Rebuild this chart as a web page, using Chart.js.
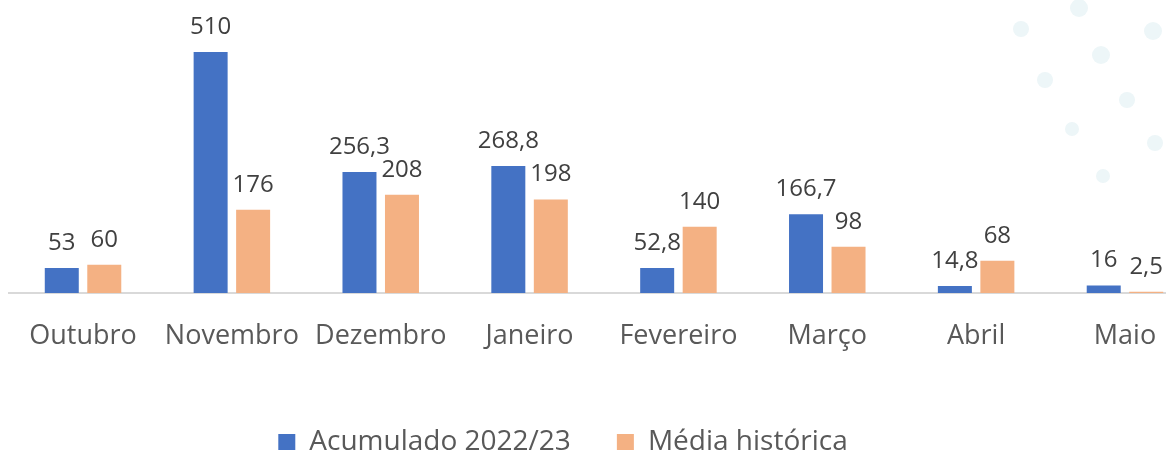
<!DOCTYPE html>
<html>
<head>
<meta charset="utf-8">
<script src="https://cdn.jsdelivr.net/npm/chart.js@4/dist/chart.umd.min.js"></script>
<style>
  html, body { margin: 0; padding: 0; background: #fff; overflow: hidden; }
  #wrap { width: 1166px; height: 453px; overflow: hidden; position: relative; }
  #box { width: 1200px; height: 453px; position: absolute; left: 0; top: 0; }
</style>
</head>
<body>
<div id="wrap"><div id="box"><canvas id="chart"></canvas></div></div>
<script>
const meses = ['Outubro', 'Novembro', 'Dezembro', 'Janeiro', 'Fevereiro', 'Março', 'Abril', 'Maio'];
const acumulado = [53, 510, 256.3, 268.8, 52.8, 166.7, 14.8, 16];
const mediaHistorica = [60, 176, 208, 198, 140, 98, 68, 2.5];

const FONT = "'Open Sans', sans-serif";
const AXIS_Y = 293; // where the baseline sits

// pale decorative dots in the top right corner
const dots = [
  [1079, 8, 9], [1021, 29, 8], [1153, 31, 9], [1101, 55, 9], [1045, 80, 8],
  [1127, 100, 8], [1072, 129, 7], [1155, 143, 8], [1103, 176, 7]
];

const bgDots = {
  id: 'bgDots',
  beforeDraw(chart) {
    const ctx = chart.ctx;
    ctx.save();
    ctx.fillStyle = '#edf6f8';
    dots.forEach(([x, y, r]) => {
      ctx.beginPath();
      ctx.arc(x, y, r, 0, Math.PI * 2);
      ctx.fill();
    });
    ctx.restore();
  }
};

const valueLabels = {
  id: 'valueLabels',
  afterDatasetsDraw(chart) {
    const ctx = chart.ctx;
    ctx.save();
    ctx.font = `24px ${FONT}`;
    ctx.fillStyle = '#404040';
    ctx.textAlign = 'center';
    ctx.textBaseline = 'alphabetic';
    chart.data.datasets.forEach((ds, i) => {
      chart.getDatasetMeta(i).data.forEach((bar, j) => {
        const txt = String(ds.data[j]).replace('.', ',');
        ctx.fillText(txt, bar.x, bar.y - 18);
      });
    });
    ctx.restore();
  }
};

// nudge the legend to where it sits in the original
const legendShift = {
  id: 'legendShift',
  afterLayout(chart) {
    const lg = chart.legend;
    if (lg) {
      const dx = 563 - (lg.left + lg.right) / 2;
      lg.left += dx;
      lg.right += dx;
      lg.top += 13;
      lg.bottom += 13;
    }
  }
};

new Chart(document.getElementById('chart'), {
  type: 'bar',
  data: {
    labels: meses,
    datasets: [
      {
        label: 'Acumulado 2022/23',
        data: acumulado,
        backgroundColor: '#4472C4',
        categoryPercentage: 0.571,
        barPercentage: 0.8
      },
      {
        label: 'Média histórica',
        data: mediaHistorica,
        backgroundColor: '#F4B183',
        categoryPercentage: 0.571,
        barPercentage: 0.8
      }
    ]
  },
  options: {
    responsive: true,
    maintainAspectRatio: false,
    animation: false,
    layout: {
      padding: { left: 8.6, right: 0.6, top: 9.5, bottom: 0 }
    },
    plugins: {
      tooltip: { enabled: false },
      legend: {
        position: 'bottom',
        labels: {
          boxWidth: 17,
          boxHeight: 16,
          padding: 46,
          color: '#595959',
          font: { family: FONT, size: 28 }
        }
      }
    },
    scales: {
      x: {
        grid: { display: false, drawTicks: false },
        border: { display: true, color: '#d9d9d9', width: 2 },
        ticks: {
          color: '#595959',
          padding: 27,
          font: { family: FONT, size: 27 },
          maxRotation: 0,
          autoSkip: false
        },
        afterFit(scale) {
          const lgH = scale.chart.legend ? scale.chart.legend.height : 0;
          scale.height = scale.chart.height - AXIS_Y - lgH;
        }
      },
      y: {
        display: false,
        min: 0,
        max: 600
      }
    }
  },
  plugins: [bgDots, valueLabels, legendShift]
});
</script>
</body>
</html>
